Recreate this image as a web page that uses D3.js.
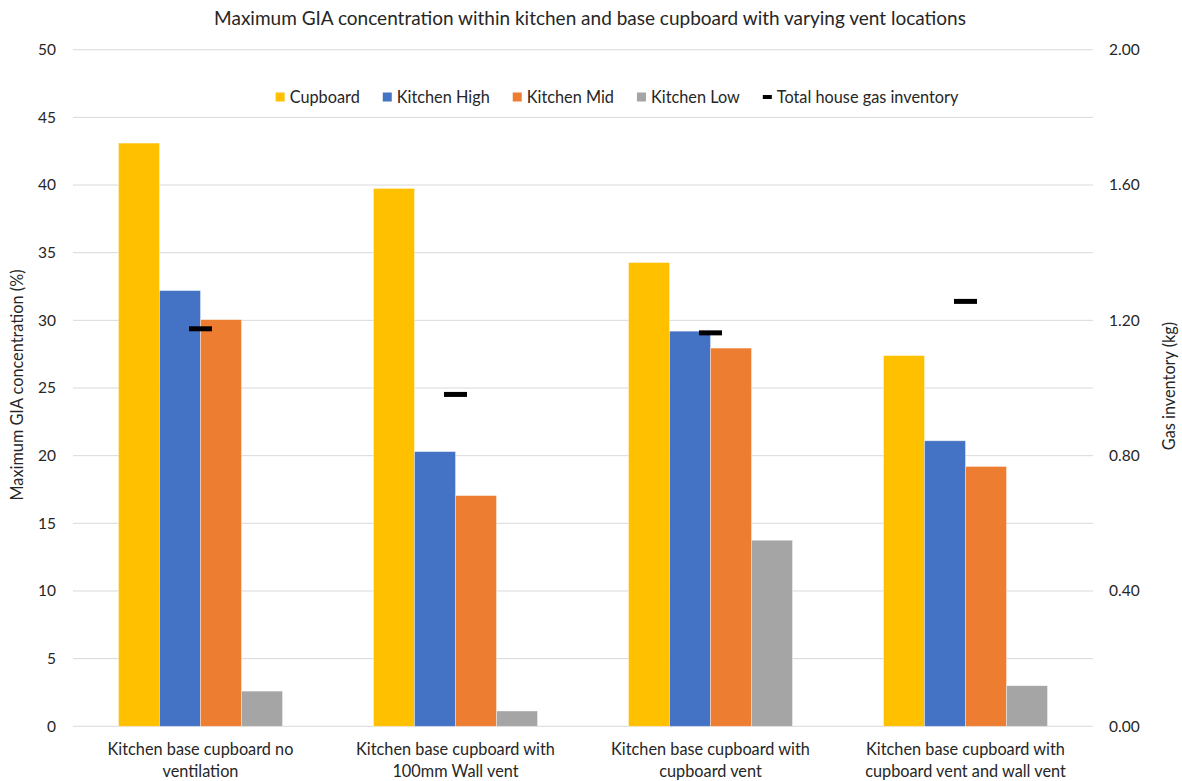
<!DOCTYPE html>
<html>
<head>
<meta charset="utf-8">
<script src="https://cdn.jsdelivr.net/npm/d3@7"></script>
<style>
  html, body { margin: 0; padding: 0; background: #fff; }
  svg { display: block; font-family: Lato, "Liberation Sans", sans-serif; }
</style>
</head>
<body>
<svg id="chart" width="1182" height="781"></svg>
<script>
const categories = [
  ["Kitchen base cupboard no", "ventilation"],
  ["Kitchen base cupboard with", "100mm Wall vent"],
  ["Kitchen base cupboard with", "cupboard vent"],
  ["Kitchen base cupboard with", "cupboard vent and wall vent"]
];
const seriesNames = ["Cupboard", "Kitchen High", "Kitchen Mid", "Kitchen Low"];
const cupboard = [43.1, 39.75, 34.27, 27.4];
const kitchenHigh = [32.2, 20.3, 29.2, 21.1];
const kitchenMid = [30.05, 17.05, 27.95, 19.2];
const kitchenLow = [2.6, 1.13, 13.75, 3.0];
const gasInventory = [1.175, 0.981, 1.163, 1.256];
const leftTicks = [0, 5, 10, 15, 20, 25, 30, 35, 40, 45, 50];
const rightTicks = [0, 0.4, 0.8, 1.2, 1.6, 2.0];
const colors = ["#FFC000", "#4472C4", "#ED7D31", "#A5A5A5"];
const seriesValues = [cupboard, kitchenHigh, kitchenMid, kitchenLow];

(function () {
const svg = d3.select("#chart");
const pLeft = 73, pRight = 1093, pTop = 49.7, pBottom = 726.3;

const x0 = d3.scaleBand().domain(d3.range(categories.length)).range([pLeft, pRight]).padding(0);
const x1 = d3.scaleBand().domain(d3.range(seriesNames.length))
  .range([45.5, x0.bandwidth() - 45.5]).padding(0);
const yL = d3.scaleLinear().domain([0, 50]).range([pBottom, pTop]);
const yR = d3.scaleLinear().domain([0, 2]).range([pBottom, pTop]);

// gridlines
svg.append("g").selectAll("line").data(leftTicks).join("line")
  .attr("x1", pLeft).attr("x2", pRight)
  .attr("y1", d => yL(d)).attr("y2", d => yL(d))
  .attr("stroke", "#d9d9d9").attr("stroke-width", 1);

// left axis
const axL = svg.append("g").attr("transform", `translate(${pLeft},0)`)
  .call(d3.axisLeft(yL).tickValues(leftTicks).tickSize(0).tickPadding(17).tickFormat(d3.format("d")));
axL.select(".domain").remove();
axL.selectAll("text").attr("font-size", 15.5).attr("fill", "#262626").style("font-family", "Lato, sans-serif");

// right axis
const axR = svg.append("g").attr("transform", `translate(${pRight},0)`)
  .call(d3.axisRight(yR).tickValues(rightTicks).tickSize(0).tickPadding(16).tickFormat(d3.format(".2f")));
axR.select(".domain").remove();
axR.selectAll("text").attr("font-size", 15.5).attr("fill", "#262626").style("font-family", "Lato, sans-serif");

// bars
const groups = svg.append("g").selectAll("g").data(categories).join("g")
  .attr("transform", (d, i) => `translate(${x0(i)},0)`);
groups.selectAll("rect").data((d, i) => seriesValues.map((s, k) => ({k, v: s[i]}))).join("rect")
  .attr("x", d => x1(d.k)).attr("width", x1.bandwidth())
  .attr("y", d => yL(d.v)).attr("height", d => yL(0) - yL(d.v))
  .attr("fill", d => colors[d.k])
  .attr("stroke", "#ffffff").attr("stroke-opacity", 0.5).attr("stroke-width", 0.75);

// gas inventory markers
svg.append("g").selectAll("rect").data(gasInventory).join("rect")
  .attr("x", (d, i) => x0(i) + x0.bandwidth() / 2 - 11.5)
  .attr("y", d => yR(d) - 2.5)
  .attr("width", 23).attr("height", 5).attr("fill", "#000");

// category labels
const cl = svg.append("g").selectAll("text").data(categories).join("text")
  .attr("x", (d, i) => x0(i) + x0.bandwidth() / 2)
  .attr("text-anchor", "middle").attr("font-size", 16.3).attr("fill", "#262626");
cl.each(function(d) {
  const t = d3.select(this);
  d.forEach((line, j) => {
    t.append("tspan").attr("x", t.attr("x")).attr("y", 755 + j * 22).text(line);
  });
});

// title
svg.append("text").attr("x", 590).attr("y", 25).attr("text-anchor", "middle")
  .attr("font-size", 19).attr("fill", "#262626")
  .text("Maximum GIA concentration within kitchen and base cupboard with varying vent locations");

// axis titles
svg.append("text").attr("transform", "translate(23,385) rotate(-90)")
  .attr("text-anchor", "middle").attr("font-size", 16.3).attr("fill", "#262626")
  .text("Maximum GIA concentration (%)");
svg.append("text").attr("transform", "translate(1175,386) rotate(-90)")
  .attr("text-anchor", "middle").attr("font-size", 16.3).attr("fill", "#262626")
  .text("Gas inventory (kg)");

// legend
const legend = svg.append("g");
const items = seriesNames.map((n, i) => ({name: n, color: colors[i], type: "rect"}))
  .concat([{name: "Total house gas inventory", color: "#000", type: "line"}]);
let cx = 0;
const legY = 97;
items.forEach((it) => {
  const g = legend.append("g").attr("transform", `translate(${cx},0)`);
  if (it.type === "rect") {
    g.append("rect").attr("x", 0).attr("y", legY - 4.5).attr("width", 9).attr("height", 9).attr("fill", it.color);
  } else {
    g.append("rect").attr("x", 0).attr("y", legY - 2).attr("width", 9).attr("height", 4).attr("fill", it.color);
  }
  const t = g.append("text").attr("x", 14).attr("y", legY + 5.5).attr("font-size", 16.3).attr("fill", "#262626").text(it.name);
  cx += 14 + t.node().getComputedTextLength() + 23;
});
const legW = cx - 23;
legend.attr("transform", `translate(${617 - legW / 2},0)`);
})();
</script>
</body>
</html>
